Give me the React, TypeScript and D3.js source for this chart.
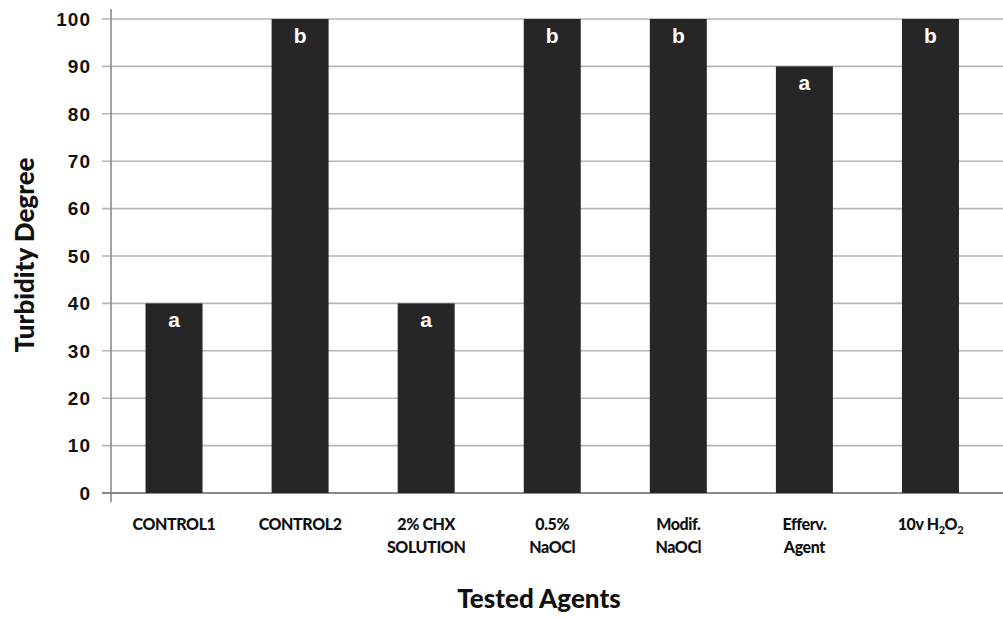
import React from "react";
import * as d3 from "d3";

const categories = ["CONTROL1", "CONTROL2", "2% CHX SOLUTION", "0.5% NaOCl", "Modif. NaOCl", "Efferv. Agent", "10v H2O2"];
const values = [40, 100, 40, 100, 100, 90, 100];
const letters = ["a", "b", "a", "b", "b", "a", "b"];
const labelLines: string[][] = [["CONTROL1"], ["CONTROL2"], ["2% CHX", "SOLUTION"], ["0.5%", "NaOCl"], ["Modif.", "NaOCl"], ["Efferv.", "Agent"], ["H2O2"]];
const yTicks = [0, 10, 20, 30, 40, 50, 60, 70, 80, 90, 100];

const W = 1003, H = 619;
const left = 111, right = 993.5, top = 19, bottom = 493;

export default function App() {
  const x = d3.scaleBand<string>().domain(categories).range([left, right]).paddingInner(0.548).paddingOuter(0.274);
  const y = d3.scaleLinear().domain([0, 100]).range([bottom, top]);
  const calibri = "Lato, 'Open Sans', sans-serif";
  const arial = "'Liberation Sans', Arial, sans-serif";
  return (
    <svg width={W} height={H} style={{ position: "absolute", left: 0, top: 0, background: "#fff" }}>
      {yTicks.map((t) => (
        <g key={t}>
          <line x1={102} x2={W} y1={y(t)} y2={y(t)} stroke={t === 0 ? "#8a8a8a" : "#b5b5b5"} strokeWidth={t === 0 ? 2 : 1.6} />
          <text x={91} y={y(t)} dy="0.36em" textAnchor="end" fontFamily={arial} fontWeight="bold" fontSize={19} letterSpacing={1} fill="#111">{t}</text>
        </g>
      ))}
      <line x1={left} x2={left} y1={9} y2={502} stroke="#8a8a8a" strokeWidth={1.6} />
      {categories.map((c, i) => (
        <g key={c}>
          <rect x={x(c)!} y={y(values[i])} width={x.bandwidth()} height={y(0) - y(values[i])} fill="#262626" />
          <text x={x(c)! + x.bandwidth() / 2} y={y(values[i]) + 24} textAnchor="middle" fontFamily={arial} fontWeight="bold" fontSize={21} fill="#fff">{letters[i]}</text>
          {i < 6 ? (
            labelLines[i].map((l, j) => (
              <text key={j} x={x(c)! + x.bandwidth() / 2} y={530 + j * 23} textAnchor="middle" fontFamily={calibri} fontWeight={900} fontSize={16} letterSpacing={-0.4} fill="#111">{l}</text>
            ))
          ) : (
            <text x={x(c)! + x.bandwidth() / 2} y={530} textAnchor="middle" fontFamily={calibri} fontWeight={900} fontSize={16} letterSpacing={-0.4} fill="#111">
              10v H<tspan fontSize={11} dy={4}>2</tspan><tspan dy={-4}>O</tspan><tspan fontSize={11} dy={4}>2</tspan>
            </text>
          )}
        </g>
      ))}
      <text transform={`translate(34,255) rotate(-90)`} textAnchor="middle" fontFamily={calibri} fontWeight={900} fontSize={26} fill="#111">Turbidity Degree</text>
      <text x={539} y={608} textAnchor="middle" fontFamily={calibri} fontWeight={900} fontSize={26} fill="#111">Tested Agents</text>
    </svg>
  );
}
